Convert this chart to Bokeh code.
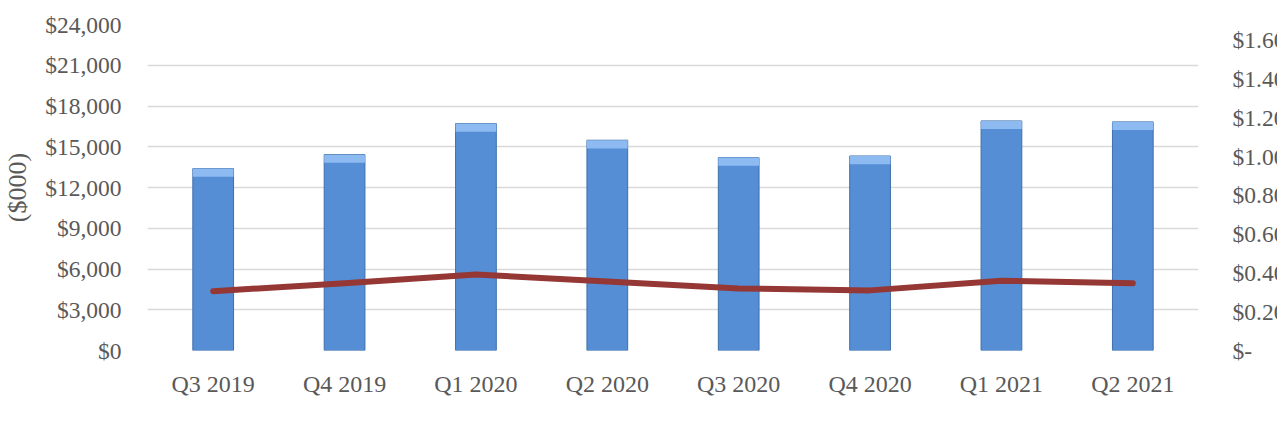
from bokeh.plotting import figure
from bokeh.models import (Range1d, LinearAxis, FactorRange, Legend, LegendItem,
                          FixedTicker, CustomJSTickFormatter)
from bokeh.embed import file_html
from bokeh.resources import INLINE

quarters = ["Q3 2019", "Q4 2019", "Q1 2020", "Q2 2020", "Q3 2020", "Q4 2020", "Q1 2021", "Q2 2021"]
opex = [13390, 14420, 16710, 15480, 14200, 14320, 16900, 16830]
opex_per_mcfe = [0.306, 0.347, 0.392, 0.356, 0.320, 0.310, 0.360, 0.347]

left_ticks = [0, 3000, 6000, 9000, 12000, 15000, 18000, 21000, 24000]
left_labels = ["$0", "$3,000", "$6,000", "$9,000", "$12,000", "$15,000", "$18,000", "$21,000", "$24,000"]
right_ticks = [0, 0.2, 0.4, 0.6, 0.8, 1.0, 1.2, 1.4, 1.6]
right_labels = ["$-", "$0.20", "$0.40", "$0.60", "$0.80", "$1.00", "$1.20", "$1.40", "$1.60"]

FONT = "Liberation Serif"
TXT = "#595959"

p = figure(x_range=FactorRange(*quarters, range_padding=0), y_range=Range1d(0, 24000),
           frame_width=1051, frame_height=326, output_backend="svg", toolbar_location=None,
           min_border_left=134, min_border_right=76, min_border_top=24, min_border_bottom=90)
p.extra_y_ranges = {"r": Range1d(0, 1.681)}

bars = p.vbar(x=quarters, top=opex, width=0.31, fill_color="#558ED5", line_color="#3E6FA8", line_width=1)
band_bottom = [v - 600 for v in opex]
p.vbar(x=quarters, top=opex, bottom=band_bottom, width=0.31, fill_color="#8DBAF0", line_color=None)
line = p.line(x=quarters, y=opex_per_mcfe, y_range_name="r", line_color="#953735", line_width=6, line_cap="round", line_join="round")

def fmt(tvals, tlabels):
    return CustomJSTickFormatter(args=dict(tvals=tvals, tlabels=tlabels), code="""
        for (let i = 0; i < tvals.length; i++) { if (Math.abs(tvals[i] - tick) < 1e-9) return tlabels[i]; }
        return "";
    """)

ax = p.yaxis[0]
ax.ticker = FixedTicker(ticks=left_ticks)
ax.formatter = fmt(left_ticks, left_labels)
ax.axis_label = "($000)"

ra = LinearAxis(y_range_name="r", ticker=FixedTicker(ticks=right_ticks), formatter=fmt(right_ticks, right_labels))
p.add_layout(ra, "right")

for a in [ax, ra, p.xaxis[0]]:
    a.axis_line_color = None
    a.major_tick_line_color = None
    a.minor_tick_line_color = None
    a.major_label_text_font = FONT
    a.major_label_text_color = TXT
    a.major_label_text_font_size = "23.5px"
    a.axis_label_text_font = FONT
    a.axis_label_text_color = TXT
    a.axis_label_text_font_size = "26px"
    a.axis_label_text_font_style = "normal"
ax.major_label_standoff = 20
ra.major_label_standoff = 28
p.xaxis[0].major_label_standoff = 14
p.xaxis[0].major_label_text_font_size = "24px"
ax.axis_label_standoff = 10

p.xgrid.visible = False
p.ygrid.grid_line_color = "#D9D9D9"
p.ygrid.grid_line_width = 1.5
p.outline_line_color = None

legend = Legend(items=[LegendItem(label="Operating expenses", renderers=[bars]),
                       LegendItem(label="Operating expenses per mcfe", renderers=[line])],
                orientation="horizontal", location=(185, -88), glyph_width=53, glyph_height=13,
                label_standoff=3, spacing=40, padding=0, margin=0, border_line_color=None,
                background_fill_alpha=0, label_text_font=FONT, label_text_color=TXT,
                label_text_font_size="24px")
p.add_layout(legend, "center")

open("out.html", "w").write(file_html(p, INLINE))
